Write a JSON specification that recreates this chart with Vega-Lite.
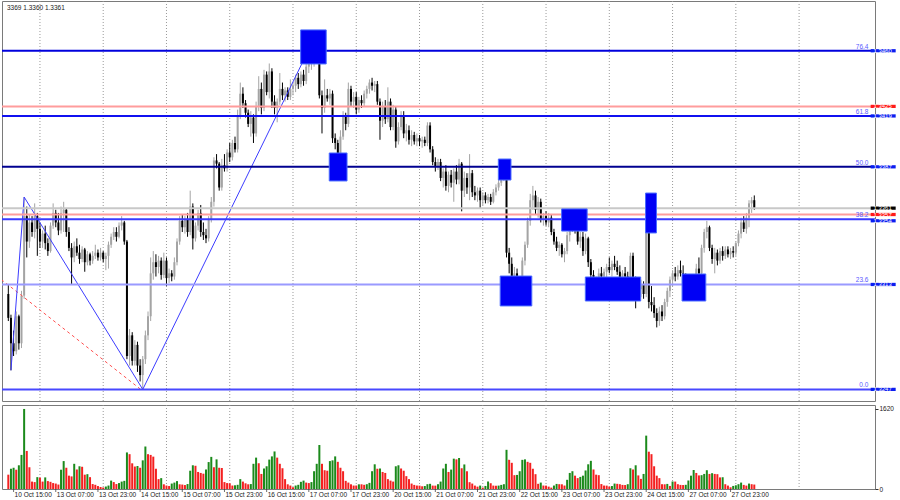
{
"$schema":"https://vega.github.io/schema/vega-lite/v6.json",
"padding":0,
"background":"white",
"spacing":2,
"config":{"view":{"stroke":"#7a7a7a","strokeWidth":1},"font":"Liberation Sans","axis":{"labelFont":"Liberation Sans"},"text":{"font":"Liberation Sans"}},
"resolve":{"scale":{"x":"independent","y":"independent"}},
"datasets":{
"ohlc":[
{"i":-2,"o":1.3307,"h":1.3313,"l":1.3290,"c":1.3292,"v":290},
{"i":-1,"o":1.3292,"h":1.3294,"l":1.3259,"c":1.3276,"v":410},
{"i":0,"o":1.3276,"h":1.3284,"l":1.3268,"c":1.3271,"v":430},
{"i":1,"o":1.3271,"h":1.3296,"l":1.3269,"c":1.3293,"v":390},
{"i":2,"o":1.3293,"h":1.3294,"l":1.3272,"c":1.3276,"v":480},
{"i":3,"o":1.3276,"h":1.3309,"l":1.3273,"c":1.3306,"v":690},
{"i":4,"o":1.3306,"h":1.3368,"l":1.3304,"c":1.3356,"v":1620},
{"i":5,"o":1.3356,"h":1.3362,"l":1.3330,"c":1.3340,"v":770},
{"i":6,"o":1.3340,"h":1.3357,"l":1.3336,"c":1.3352,"v":440},
{"i":7,"o":1.3352,"h":1.3356,"l":1.3343,"c":1.3346,"v":150},
{"i":8,"o":1.3346,"h":1.3364,"l":1.3342,"c":1.3356,"v":140},
{"i":9,"o":1.3356,"h":1.3358,"l":1.3331,"c":1.3348,"v":240},
{"i":10,"o":1.3348,"h":1.3352,"l":1.3336,"c":1.3340,"v":230},
{"i":11,"o":1.3340,"h":1.3347,"l":1.3336,"c":1.3345,"v":150},
{"i":12,"o":1.3345,"h":1.3350,"l":1.3335,"c":1.3339,"v":235},
{"i":13,"o":1.3339,"h":1.3342,"l":1.3331,"c":1.3334,"v":160},
{"i":14,"o":1.3334,"h":1.3352,"l":1.3333,"c":1.3350,"v":145},
{"i":15,"o":1.3350,"h":1.3364,"l":1.3348,"c":1.3358,"v":120},
{"i":16,"o":1.3358,"h":1.3360,"l":1.3349,"c":1.3352,"v":110},
{"i":17,"o":1.3352,"h":1.3358,"l":1.3344,"c":1.3347,"v":90},
{"i":18,"o":1.3347,"h":1.3362,"l":1.3345,"c":1.3358,"v":390},
{"i":19,"o":1.3358,"h":1.3365,"l":1.3346,"c":1.3360,"v":565},
{"i":20,"o":1.3360,"h":1.3361,"l":1.3343,"c":1.3346,"v":430},
{"i":21,"o":1.3346,"h":1.3349,"l":1.3334,"c":1.3336,"v":270},
{"i":22,"o":1.3336,"h":1.3339,"l":1.3313,"c":1.3330,"v":255},
{"i":23,"o":1.3330,"h":1.3340,"l":1.3327,"c":1.3337,"v":510},
{"i":24,"o":1.3337,"h":1.3342,"l":1.3331,"c":1.3333,"v":395},
{"i":25,"o":1.3333,"h":1.3338,"l":1.3326,"c":1.3329,"v":460},
{"i":26,"o":1.3329,"h":1.3337,"l":1.3327,"c":1.3335,"v":450},
{"i":27,"o":1.3335,"h":1.3336,"l":1.3321,"c":1.3327,"v":290},
{"i":28,"o":1.3327,"h":1.3334,"l":1.3325,"c":1.3332,"v":300},
{"i":29,"o":1.3332,"h":1.3333,"l":1.3325,"c":1.3328,"v":240},
{"i":30,"o":1.3328,"h":1.3334,"l":1.3326,"c":1.3331,"v":100},
{"i":31,"o":1.3331,"h":1.3338,"l":1.3329,"c":1.3333,"v":85},
{"i":32,"o":1.3333,"h":1.3335,"l":1.3328,"c":1.3330,"v":60},
{"i":33,"o":1.3330,"h":1.3336,"l":1.3328,"c":1.3333,"v":40},
{"i":34,"o":1.3333,"h":1.3334,"l":1.3327,"c":1.3329,"v":30},
{"i":35,"o":1.3329,"h":1.3333,"l":1.3322,"c":1.3331,"v":50},
{"i":36,"o":1.3331,"h":1.3340,"l":1.3323,"c":1.3338,"v":70},
{"i":37,"o":1.3338,"h":1.3345,"l":1.3336,"c":1.3343,"v":170},
{"i":38,"o":1.3343,"h":1.3349,"l":1.3341,"c":1.3346,"v":140},
{"i":39,"o":1.3346,"h":1.3349,"l":1.3340,"c":1.3343,"v":100},
{"i":40,"o":1.3343,"h":1.3352,"l":1.3342,"c":1.3350,"v":120},
{"i":41,"o":1.3350,"h":1.3356,"l":1.3347,"c":1.3352,"v":150},
{"i":42,"o":1.3352,"h":1.3353,"l":1.3338,"c":1.3340,"v":165},
{"i":43,"o":1.3340,"h":1.3341,"l":1.3266,"c":1.3268,"v":740},
{"i":44,"o":1.3268,"h":1.3285,"l":1.3262,"c":1.3281,"v":705},
{"i":45,"o":1.3281,"h":1.3283,"l":1.3262,"c":1.3265,"v":520},
{"i":46,"o":1.3265,"h":1.3278,"l":1.3262,"c":1.3275,"v":455},
{"i":47,"o":1.3275,"h":1.3277,"l":1.3258,"c":1.3262,"v":465},
{"i":48,"o":1.3262,"h":1.3266,"l":1.3252,"c":1.3256,"v":430},
{"i":49,"o":1.3256,"h":1.3268,"l":1.3247,"c":1.3266,"v":580},
{"i":50,"o":1.3266,"h":1.3284,"l":1.3263,"c":1.3281,"v":860},
{"i":51,"o":1.3281,"h":1.3296,"l":1.3278,"c":1.3293,"v":705},
{"i":52,"o":1.3293,"h":1.3330,"l":1.3290,"c":1.3320,"v":690},
{"i":53,"o":1.3320,"h":1.3334,"l":1.3316,"c":1.3327,"v":655},
{"i":54,"o":1.3327,"h":1.3332,"l":1.3318,"c":1.3324,"v":410},
{"i":55,"o":1.3324,"h":1.3331,"l":1.3320,"c":1.3328,"v":200},
{"i":56,"o":1.3328,"h":1.3330,"l":1.3316,"c":1.3319,"v":220},
{"i":57,"o":1.3319,"h":1.3333,"l":1.3317,"c":1.3328,"v":95},
{"i":58,"o":1.3328,"h":1.3330,"l":1.3312,"c":1.3317,"v":70},
{"i":59,"o":1.3317,"h":1.3323,"l":1.3314,"c":1.3320,"v":60},
{"i":60,"o":1.3320,"h":1.3322,"l":1.3315,"c":1.3318,"v":110},
{"i":61,"o":1.3318,"h":1.3330,"l":1.3316,"c":1.3327,"v":130},
{"i":62,"o":1.3327,"h":1.3342,"l":1.3325,"c":1.3340,"v":160},
{"i":63,"o":1.3340,"h":1.3356,"l":1.3338,"c":1.3353,"v":95},
{"i":64,"o":1.3353,"h":1.3357,"l":1.3346,"c":1.3349,"v":90},
{"i":65,"o":1.3349,"h":1.3356,"l":1.3345,"c":1.3354,"v":80},
{"i":66,"o":1.3354,"h":1.3358,"l":1.3343,"c":1.3346,"v":100},
{"i":67,"o":1.3346,"h":1.3372,"l":1.3344,"c":1.3362,"v":370},
{"i":68,"o":1.3362,"h":1.3364,"l":1.3335,"c":1.3342,"v":480},
{"i":69,"o":1.3342,"h":1.3352,"l":1.3340,"c":1.3350,"v":470},
{"i":70,"o":1.3350,"h":1.3360,"l":1.3347,"c":1.3358,"v":345},
{"i":71,"o":1.3358,"h":1.3363,"l":1.3343,"c":1.3346,"v":325},
{"i":72,"o":1.3346,"h":1.3352,"l":1.3341,"c":1.3344,"v":310},
{"i":73,"o":1.3344,"h":1.3348,"l":1.3339,"c":1.3342,"v":395},
{"i":74,"o":1.3342,"h":1.3356,"l":1.3340,"c":1.3354,"v":545},
{"i":75,"o":1.3354,"h":1.3368,"l":1.3352,"c":1.3365,"v":650},
{"i":76,"o":1.3365,"h":1.3393,"l":1.3362,"c":1.3391,"v":440},
{"i":77,"o":1.3391,"h":1.3395,"l":1.3386,"c":1.3389,"v":600},
{"i":78,"o":1.3389,"h":1.3390,"l":1.3372,"c":1.3374,"v":430},
{"i":79,"o":1.3374,"h":1.3392,"l":1.3372,"c":1.3388,"v":425},
{"i":80,"o":1.3388,"h":1.3395,"l":1.3384,"c":1.3386,"v":140},
{"i":81,"o":1.3386,"h":1.3398,"l":1.3384,"c":1.3396,"v":120},
{"i":82,"o":1.3396,"h":1.3402,"l":1.3390,"c":1.3393,"v":115},
{"i":83,"o":1.3393,"h":1.3404,"l":1.3391,"c":1.3402,"v":70},
{"i":84,"o":1.3402,"h":1.3406,"l":1.3396,"c":1.3398,"v":75},
{"i":85,"o":1.3398,"h":1.3423,"l":1.3396,"c":1.3419,"v":85},
{"i":86,"o":1.3419,"h":1.3440,"l":1.3417,"c":1.3433,"v":200},
{"i":87,"o":1.3433,"h":1.3437,"l":1.3424,"c":1.3427,"v":150},
{"i":88,"o":1.3427,"h":1.3429,"l":1.3418,"c":1.3421,"v":115},
{"i":89,"o":1.3421,"h":1.3423,"l":1.3412,"c":1.3414,"v":95},
{"i":90,"o":1.3414,"h":1.3422,"l":1.3406,"c":1.3418,"v":100},
{"i":91,"o":1.3418,"h":1.3420,"l":1.3402,"c":1.3408,"v":510},
{"i":92,"o":1.3408,"h":1.3428,"l":1.3406,"c":1.3425,"v":635},
{"i":93,"o":1.3425,"h":1.3444,"l":1.3422,"c":1.3436,"v":520},
{"i":94,"o":1.3436,"h":1.3440,"l":1.3420,"c":1.3424,"v":305},
{"i":95,"o":1.3424,"h":1.3448,"l":1.3422,"c":1.3445,"v":415},
{"i":96,"o":1.3445,"h":1.3447,"l":1.3432,"c":1.3434,"v":460},
{"i":97,"o":1.3434,"h":1.3452,"l":1.3430,"c":1.3447,"v":595},
{"i":98,"o":1.3447,"h":1.3449,"l":1.3424,"c":1.3428,"v":660},
{"i":99,"o":1.3428,"h":1.3432,"l":1.3420,"c":1.3424,"v":760},
{"i":100,"o":1.3424,"h":1.3430,"l":1.3415,"c":1.3428,"v":635},
{"i":101,"o":1.3428,"h":1.3446,"l":1.3426,"c":1.3436,"v":510},
{"i":102,"o":1.3436,"h":1.3440,"l":1.3429,"c":1.3432,"v":420},
{"i":103,"o":1.3432,"h":1.3437,"l":1.3428,"c":1.3435,"v":200},
{"i":104,"o":1.3435,"h":1.3437,"l":1.3429,"c":1.3431,"v":95},
{"i":105,"o":1.3431,"h":1.3442,"l":1.3429,"c":1.3436,"v":70},
{"i":106,"o":1.3436,"h":1.3440,"l":1.3432,"c":1.3438,"v":35},
{"i":107,"o":1.3438,"h":1.3445,"l":1.3434,"c":1.3443,"v":70},
{"i":108,"o":1.3443,"h":1.3446,"l":1.3436,"c":1.3439,"v":85},
{"i":109,"o":1.3439,"h":1.3447,"l":1.3437,"c":1.3445,"v":145},
{"i":110,"o":1.3445,"h":1.3448,"l":1.3438,"c":1.3441,"v":170},
{"i":111,"o":1.3441,"h":1.3452,"l":1.3439,"c":1.3450,"v":130},
{"i":112,"o":1.3450,"h":1.3454,"l":1.3446,"c":1.3452,"v":120},
{"i":113,"o":1.3452,"h":1.3456,"l":1.3448,"c":1.3454,"v":140},
{"i":114,"o":1.3454,"h":1.3470,"l":1.3450,"c":1.3466,"v":360},
{"i":115,"o":1.3466,"h":1.3471,"l":1.3454,"c":1.3456,"v":510},
{"i":116,"o":1.3456,"h":1.3458,"l":1.3430,"c":1.3432,"v":890},
{"i":117,"o":1.3432,"h":1.3435,"l":1.3408,"c":1.3424,"v":510},
{"i":118,"o":1.3424,"h":1.3442,"l":1.3421,"c":1.3432,"v":380},
{"i":119,"o":1.3432,"h":1.3436,"l":1.3428,"c":1.3430,"v":370},
{"i":120,"o":1.3430,"h":1.3436,"l":1.3426,"c":1.3433,"v":565},
{"i":121,"o":1.3433,"h":1.3435,"l":1.3402,"c":1.3405,"v":580},
{"i":122,"o":1.3405,"h":1.3408,"l":1.3398,"c":1.3402,"v":660},
{"i":123,"o":1.3402,"h":1.3404,"l":1.3389,"c":1.3392,"v":550},
{"i":124,"o":1.3392,"h":1.3410,"l":1.3390,"c":1.3406,"v":430},
{"i":125,"o":1.3406,"h":1.3422,"l":1.3404,"c":1.3419,"v":360},
{"i":126,"o":1.3419,"h":1.3421,"l":1.3410,"c":1.3414,"v":165},
{"i":127,"o":1.3414,"h":1.3440,"l":1.3412,"c":1.3436,"v":130},
{"i":128,"o":1.3436,"h":1.3438,"l":1.3425,"c":1.3428,"v":95},
{"i":129,"o":1.3428,"h":1.3434,"l":1.3424,"c":1.3431,"v":70},
{"i":130,"o":1.3431,"h":1.3434,"l":1.3420,"c":1.3423,"v":70},
{"i":131,"o":1.3423,"h":1.3431,"l":1.3421,"c":1.3429,"v":95},
{"i":132,"o":1.3429,"h":1.3432,"l":1.3424,"c":1.3427,"v":95},
{"i":133,"o":1.3427,"h":1.3435,"l":1.3425,"c":1.3433,"v":85},
{"i":134,"o":1.3433,"h":1.3438,"l":1.3430,"c":1.3436,"v":97},
{"i":135,"o":1.3436,"h":1.3442,"l":1.3433,"c":1.3440,"v":124},
{"i":136,"o":1.3440,"h":1.3443,"l":1.3435,"c":1.3438,"v":360},
{"i":137,"o":1.3438,"h":1.3441,"l":1.3434,"c":1.3439,"v":500},
{"i":138,"o":1.3439,"h":1.3441,"l":1.3426,"c":1.3428,"v":410},
{"i":139,"o":1.3428,"h":1.3430,"l":1.3404,"c":1.3416,"v":415},
{"i":140,"o":1.3416,"h":1.3428,"l":1.3412,"c":1.3425,"v":345},
{"i":141,"o":1.3425,"h":1.3429,"l":1.3414,"c":1.3417,"v":325},
{"i":142,"o":1.3417,"h":1.3437,"l":1.3415,"c":1.3428,"v":200},
{"i":143,"o":1.3428,"h":1.3430,"l":1.3410,"c":1.3412,"v":170},
{"i":144,"o":1.3412,"h":1.3426,"l":1.3410,"c":1.3423,"v":150},
{"i":145,"o":1.3423,"h":1.3425,"l":1.3399,"c":1.3403,"v":460},
{"i":146,"o":1.3403,"h":1.3415,"l":1.3401,"c":1.3412,"v":480},
{"i":147,"o":1.3412,"h":1.3422,"l":1.3410,"c":1.3419,"v":415},
{"i":148,"o":1.3419,"h":1.3422,"l":1.3405,"c":1.3408,"v":370},
{"i":149,"o":1.3408,"h":1.3414,"l":1.3403,"c":1.3410,"v":260},
{"i":150,"o":1.3410,"h":1.3413,"l":1.3401,"c":1.3404,"v":200},
{"i":151,"o":1.3404,"h":1.3410,"l":1.3400,"c":1.3407,"v":110},
{"i":152,"o":1.3407,"h":1.3409,"l":1.3401,"c":1.3403,"v":83},
{"i":153,"o":1.3403,"h":1.3408,"l":1.3400,"c":1.3405,"v":70},
{"i":154,"o":1.3405,"h":1.3407,"l":1.3400,"c":1.3403,"v":68},
{"i":155,"o":1.3403,"h":1.3406,"l":1.3399,"c":1.3404,"v":55},
{"i":156,"o":1.3404,"h":1.3406,"l":1.3400,"c":1.3402,"v":60},
{"i":157,"o":1.3402,"h":1.3415,"l":1.3400,"c":1.3413,"v":97},
{"i":158,"o":1.3413,"h":1.3415,"l":1.3396,"c":1.3398,"v":105},
{"i":159,"o":1.3398,"h":1.3400,"l":1.3388,"c":1.3390,"v":69},
{"i":160,"o":1.3390,"h":1.3393,"l":1.3384,"c":1.3387,"v":68},
{"i":161,"o":1.3387,"h":1.3392,"l":1.3385,"c":1.3390,"v":97},
{"i":162,"o":1.3390,"h":1.3392,"l":1.3378,"c":1.3380,"v":150},
{"i":163,"o":1.3380,"h":1.3386,"l":1.3374,"c":1.3384,"v":415},
{"i":164,"o":1.3384,"h":1.3388,"l":1.3372,"c":1.3375,"v":510},
{"i":165,"o":1.3375,"h":1.3384,"l":1.3371,"c":1.3382,"v":345},
{"i":166,"o":1.3382,"h":1.3385,"l":1.3374,"c":1.3377,"v":393},
{"i":167,"o":1.3377,"h":1.3386,"l":1.3365,"c":1.3384,"v":614},
{"i":168,"o":1.3384,"h":1.3388,"l":1.3376,"c":1.3379,"v":600},
{"i":169,"o":1.3379,"h":1.3392,"l":1.3376,"c":1.3389,"v":628},
{"i":170,"o":1.3389,"h":1.3390,"l":1.3359,"c":1.3372,"v":420},
{"i":171,"o":1.3372,"h":1.3384,"l":1.3368,"c":1.3380,"v":497},
{"i":172,"o":1.3380,"h":1.3383,"l":1.3370,"c":1.3374,"v":359},
{"i":173,"o":1.3374,"h":1.3395,"l":1.3366,"c":1.3383,"v":138},
{"i":174,"o":1.3383,"h":1.3385,"l":1.3368,"c":1.3371,"v":110},
{"i":175,"o":1.3371,"h":1.3375,"l":1.3366,"c":1.3369,"v":69},
{"i":176,"o":1.3369,"h":1.3374,"l":1.3365,"c":1.3372,"v":48},
{"i":177,"o":1.3372,"h":1.3374,"l":1.3361,"c":1.3366,"v":69},
{"i":178,"o":1.3366,"h":1.3371,"l":1.3363,"c":1.3369,"v":28},
{"i":179,"o":1.3369,"h":1.3371,"l":1.3364,"c":1.3366,"v":62},
{"i":180,"o":1.3366,"h":1.3370,"l":1.3364,"c":1.3368,"v":152},
{"i":181,"o":1.3368,"h":1.3370,"l":1.3363,"c":1.3365,"v":117},
{"i":182,"o":1.3365,"h":1.3373,"l":1.3364,"c":1.3371,"v":69},
{"i":183,"o":1.3371,"h":1.3376,"l":1.3369,"c":1.3374,"v":66},
{"i":184,"o":1.3374,"h":1.3379,"l":1.3372,"c":1.3377,"v":69},
{"i":185,"o":1.3377,"h":1.3383,"l":1.3375,"c":1.3381,"v":83},
{"i":186,"o":1.3381,"h":1.3387,"l":1.3378,"c":1.3384,"v":97},
{"i":187,"o":1.3384,"h":1.3386,"l":1.3330,"c":1.3333,"v":793},
{"i":188,"o":1.3333,"h":1.3336,"l":1.3320,"c":1.3326,"v":590},
{"i":189,"o":1.3326,"h":1.3330,"l":1.3312,"c":1.3316,"v":530},
{"i":190,"o":1.3316,"h":1.3324,"l":1.3310,"c":1.3320,"v":280},
{"i":191,"o":1.3320,"h":1.3323,"l":1.3304,"c":1.3309,"v":285},
{"i":192,"o":1.3309,"h":1.3318,"l":1.3306,"c":1.3314,"v":360},
{"i":193,"o":1.3314,"h":1.3330,"l":1.3311,"c":1.3328,"v":590},
{"i":194,"o":1.3328,"h":1.3340,"l":1.3325,"c":1.3338,"v":600},
{"i":195,"o":1.3338,"h":1.3355,"l":1.3336,"c":1.3353,"v":550},
{"i":196,"o":1.3353,"h":1.3370,"l":1.3350,"c":1.3366,"v":530},
{"i":197,"o":1.3366,"h":1.3375,"l":1.3360,"c":1.3369,"v":410},
{"i":198,"o":1.3369,"h":1.3372,"l":1.3357,"c":1.3360,"v":300},
{"i":199,"o":1.3360,"h":1.3368,"l":1.3355,"c":1.3365,"v":105},
{"i":200,"o":1.3365,"h":1.3367,"l":1.3352,"c":1.3354,"v":130},
{"i":201,"o":1.3354,"h":1.3358,"l":1.3350,"c":1.3356,"v":70},
{"i":202,"o":1.3356,"h":1.3359,"l":1.3350,"c":1.3352,"v":68},
{"i":203,"o":1.3352,"h":1.3358,"l":1.3349,"c":1.3355,"v":48},
{"i":204,"o":1.3355,"h":1.3357,"l":1.3344,"c":1.3346,"v":28},
{"i":205,"o":1.3346,"h":1.3348,"l":1.3338,"c":1.3340,"v":70},
{"i":206,"o":1.3340,"h":1.3343,"l":1.3334,"c":1.3336,"v":103},
{"i":207,"o":1.3336,"h":1.3340,"l":1.3331,"c":1.3338,"v":97},
{"i":208,"o":1.3338,"h":1.3339,"l":1.3330,"c":1.3332,"v":95},
{"i":209,"o":1.3332,"h":1.3336,"l":1.3327,"c":1.3334,"v":70},
{"i":210,"o":1.3334,"h":1.3346,"l":1.3332,"c":1.3344,"v":186},
{"i":211,"o":1.3344,"h":1.3352,"l":1.3340,"c":1.3350,"v":325},
{"i":212,"o":1.3350,"h":1.3356,"l":1.3346,"c":1.3353,"v":360},
{"i":213,"o":1.3353,"h":1.3356,"l":1.3345,"c":1.3348,"v":270},
{"i":214,"o":1.3348,"h":1.3350,"l":1.3338,"c":1.3340,"v":220},
{"i":215,"o":1.3340,"h":1.3346,"l":1.3336,"c":1.3343,"v":245},
{"i":216,"o":1.3343,"h":1.3346,"l":1.3331,"c":1.3334,"v":270},
{"i":217,"o":1.3334,"h":1.3345,"l":1.3332,"c":1.3342,"v":375},
{"i":218,"o":1.3342,"h":1.3343,"l":1.3324,"c":1.3327,"v":500},
{"i":219,"o":1.3327,"h":1.3329,"l":1.3316,"c":1.3319,"v":570},
{"i":220,"o":1.3319,"h":1.3322,"l":1.3308,"c":1.3312,"v":395},
{"i":221,"o":1.3312,"h":1.3318,"l":1.3307,"c":1.3315,"v":290},
{"i":222,"o":1.3315,"h":1.3323,"l":1.3312,"c":1.3320,"v":280},
{"i":223,"o":1.3320,"h":1.3324,"l":1.3316,"c":1.3318,"v":100},
{"i":224,"o":1.3318,"h":1.3323,"l":1.3315,"c":1.3321,"v":70},
{"i":225,"o":1.3321,"h":1.3326,"l":1.3317,"c":1.3324,"v":68},
{"i":226,"o":1.3324,"h":1.3330,"l":1.3320,"c":1.3322,"v":48},
{"i":227,"o":1.3322,"h":1.3328,"l":1.3318,"c":1.3326,"v":60},
{"i":228,"o":1.3326,"h":1.3331,"l":1.3322,"c":1.3324,"v":110},
{"i":229,"o":1.3324,"h":1.3328,"l":1.3319,"c":1.3321,"v":105},
{"i":230,"o":1.3321,"h":1.3325,"l":1.3314,"c":1.3317,"v":97},
{"i":231,"o":1.3317,"h":1.3322,"l":1.3313,"c":1.3320,"v":83},
{"i":232,"o":1.3320,"h":1.3324,"l":1.3315,"c":1.3318,"v":80},
{"i":233,"o":1.3318,"h":1.3321,"l":1.3312,"c":1.3316,"v":97},
{"i":234,"o":1.3316,"h":1.3333,"l":1.3312,"c":1.3331,"v":420},
{"i":235,"o":1.3331,"h":1.3333,"l":1.3313,"c":1.3316,"v":395},
{"i":236,"o":1.3316,"h":1.3318,"l":1.3298,"c":1.3312,"v":480},
{"i":237,"o":1.3312,"h":1.3317,"l":1.3306,"c":1.3310,"v":275},
{"i":238,"o":1.3310,"h":1.3316,"l":1.3305,"c":1.3313,"v":205},
{"i":239,"o":1.3313,"h":1.3315,"l":1.3304,"c":1.3307,"v":305},
{"i":240,"o":1.3307,"h":1.3370,"l":1.3305,"c":1.3352,"v":1080},
{"i":241,"o":1.3352,"h":1.3358,"l":1.3298,"c":1.3302,"v":755},
{"i":242,"o":1.3302,"h":1.3312,"l":1.3296,"c":1.3300,"v":705},
{"i":243,"o":1.3300,"h":1.3305,"l":1.3292,"c":1.3295,"v":460},
{"i":244,"o":1.3295,"h":1.3298,"l":1.3286,"c":1.3290,"v":270},
{"i":245,"o":1.3290,"h":1.3299,"l":1.3287,"c":1.3296,"v":220},
{"i":246,"o":1.3296,"h":1.3300,"l":1.3290,"c":1.3293,"v":97},
{"i":247,"o":1.3293,"h":1.3304,"l":1.3291,"c":1.3302,"v":95},
{"i":248,"o":1.3302,"h":1.3311,"l":1.3299,"c":1.3309,"v":103},
{"i":249,"o":1.3309,"h":1.3318,"l":1.3305,"c":1.3316,"v":62},
{"i":250,"o":1.3316,"h":1.3322,"l":1.3312,"c":1.3320,"v":152},
{"i":251,"o":1.3320,"h":1.3324,"l":1.3315,"c":1.3318,"v":150},
{"i":252,"o":1.3318,"h":1.3325,"l":1.3316,"c":1.3322,"v":97},
{"i":253,"o":1.3322,"h":1.3328,"l":1.3318,"c":1.3320,"v":83},
{"i":254,"o":1.3320,"h":1.3325,"l":1.3313,"c":1.3316,"v":80},
{"i":255,"o":1.3316,"h":1.3320,"l":1.3308,"c":1.3313,"v":85},
{"i":256,"o":1.3313,"h":1.3319,"l":1.3310,"c":1.3317,"v":172},
{"i":257,"o":1.3317,"h":1.3319,"l":1.3307,"c":1.3310,"v":270},
{"i":258,"o":1.3310,"h":1.3318,"l":1.3308,"c":1.3316,"v":385},
{"i":259,"o":1.3316,"h":1.3326,"l":1.3314,"c":1.3323,"v":325},
{"i":260,"o":1.3323,"h":1.3330,"l":1.3318,"c":1.3320,"v":275},
{"i":261,"o":1.3320,"h":1.3338,"l":1.3318,"c":1.3336,"v":280},
{"i":262,"o":1.3336,"h":1.3348,"l":1.3333,"c":1.3346,"v":305},
{"i":263,"o":1.3346,"h":1.3353,"l":1.3342,"c":1.3349,"v":380},
{"i":264,"o":1.3349,"h":1.3350,"l":1.3334,"c":1.3336,"v":305},
{"i":265,"o":1.3336,"h":1.3338,"l":1.3326,"c":1.3329,"v":320},
{"i":266,"o":1.3329,"h":1.3336,"l":1.3320,"c":1.3333,"v":305},
{"i":267,"o":1.3333,"h":1.3335,"l":1.3325,"c":1.3328,"v":300},
{"i":268,"o":1.3328,"h":1.3336,"l":1.3326,"c":1.3334,"v":235},
{"i":269,"o":1.3334,"h":1.3337,"l":1.3328,"c":1.3331,"v":238},
{"i":270,"o":1.3331,"h":1.3337,"l":1.3329,"c":1.3335,"v":97},
{"i":271,"o":1.3335,"h":1.3337,"l":1.3330,"c":1.3332,"v":69},
{"i":272,"o":1.3332,"h":1.3336,"l":1.3329,"c":1.3334,"v":35},
{"i":273,"o":1.3334,"h":1.3337,"l":1.3330,"c":1.3333,"v":62},
{"i":274,"o":1.3333,"h":1.3340,"l":1.3331,"c":1.3339,"v":75},
{"i":275,"o":1.3339,"h":1.3347,"l":1.3337,"c":1.3345,"v":97},
{"i":276,"o":1.3345,"h":1.3355,"l":1.3342,"c":1.3352,"v":130},
{"i":277,"o":1.3352,"h":1.3356,"l":1.3346,"c":1.3348,"v":83},
{"i":278,"o":1.3348,"h":1.3358,"l":1.3345,"c":1.3355,"v":69},
{"i":279,"o":1.3355,"h":1.3366,"l":1.3349,"c":1.3364,"v":110},
{"i":280,"o":1.3364,"h":1.3368,"l":1.3358,"c":1.3366,"v":97},
{"i":281,"o":1.3366,"h":1.3369,"l":1.3360,"c":1.3361,"v":90}
],
"grid":[{"i":10},{"i":34},{"i":58},{"i":82},{"i":106},{"i":130},{"i":154},{"i":178},{"i":202},{"i":226},{"i":250},{"i":274},{"i":298}],
"times":[
{"i":0,"t":"10 Oct 15:00"},{"i":16,"t":"13 Oct 07:00"},{"i":32,"t":"13 Oct 23:00"},{"i":48,"t":"14 Oct 15:00"},
{"i":64,"t":"15 Oct 07:00"},{"i":80,"t":"15 Oct 23:00"},{"i":96,"t":"16 Oct 15:00"},{"i":112,"t":"17 Oct 07:00"},
{"i":128,"t":"17 Oct 23:00"},{"i":144,"t":"20 Oct 15:00"},{"i":160,"t":"21 Oct 07:00"},{"i":176,"t":"21 Oct 23:00"},
{"i":192,"t":"22 Oct 15:00"},{"i":208,"t":"23 Oct 07:00"},{"i":224,"t":"23 Oct 23:00"},{"i":240,"t":"24 Oct 15:00"},
{"i":256,"t":"27 Oct 07:00"},{"i":272,"t":"27 Oct 23:00"}
],
"levels":[
{"p":1.3460,"n":"f764"},{"p":1.3425,"n":"red"},{"p":1.3419,"n":"f618"},{"p":1.3387,"n":"f500"},
{"p":1.3361,"n":"bid"},{"p":1.3357,"n":"red"},{"p":1.3354,"n":"f382"},{"p":1.3313,"n":"f236"},{"p":1.3247,"n":"f0"}
],
"fibs":[
{"p":1.3460,"t":"76.4"},{"p":1.3419,"t":"61.8"},{"p":1.3387,"t":"50.0"},{"p":1.3354,"t":"38.2"},{"p":1.3313,"t":"23.6"},{"p":1.3247,"t":"0.0"}
],
"tags":[
{"p":1.3460,"k":"b"},{"p":1.3425,"k":"r"},{"p":1.3419,"k":"b"},{"p":1.3387,"k":"b"},
{"p":1.3357,"k":"r"},{"p":1.3361,"k":"k"},{"p":1.3313,"k":"b"},{"p":1.3247,"k":"b"}
],
"tagslow":[{"p":1.3354,"k":"b"}],
"boxes":[
{"i1":108.9,"i2":118.6,"p1":1.34731,"p2":1.34517},
{"i1":119.75,"i2":126.5,"p1":1.33957,"p2":1.33781},
{"i1":183.9,"i2":188.7,"p1":1.33919,"p2":1.33787},
{"i1":184.6,"i2":196.6,"p1":1.33183,"p2":1.32995},
{"i1":207.9,"i2":217.6,"p1":1.33605,"p2":1.33466},
{"i1":216.9,"i2":237.9,"p1":1.33177,"p2":1.33026},
{"i1":239.75,"i2":243.9,"p1":1.33705,"p2":1.33454},
{"i1":253.6,"i2":262.6,"p1":1.33196,"p2":1.33026}
],
"zig":[{"i":-1,"p":1.3259},{"i":4,"p":1.3368},{"i":49,"p":1.3247},{"i":115,"p":1.3471}],
"trend":[{"i":-10,"p":1.33231},{"i":48,"p":1.32473}]
},
"vconcat":[
{
"width":873,"height":400,
"layer":[
{"data":{"name":"grid"},"mark":{"type":"rule","color":"#9a9a9a","strokeDash":[1,2],"strokeWidth":1},
 "encoding":{"x":{"field":"i","type":"quantitative","scale":{"domain":[-2.5,324.9],"nice":false,"zero":false},"axis":null}}},
{"data":{"name":"ohlc"},"mark":{"type":"rule","strokeWidth":1},
 "encoding":{"x":{"field":"i","type":"quantitative","axis":null},
  "y":{"field":"l","type":"quantitative","scale":{"domain":[1.32397,1.34913],"nice":false,"zero":false},
   "axis":{"orient":"right","title":null,"values":[1.3245,1.326,1.3275,1.329,1.3305,1.332,1.3335,1.335,1.3365,1.338,1.3395,1.341,1.3425,1.344,1.3455,1.347,1.3485],"format":".4f","grid":false,"domain":false,"tickSize":3,"tickColor":"#303030","labelFontSize":6.5,"labelColor":"#202020","labelPadding":1,"labelBaseline":"middle"}},
  "y2":{"field":"h"},
  "color":{"condition":{"test":"datum.c >= datum.o","value":"#a4a4a4"},"value":"#000000"}}},
{"data":{"name":"ohlc"},"mark":{"type":"bar","width":2},
 "encoding":{"x":{"field":"i","type":"quantitative","axis":null},
  "y":{"field":"o","type":"quantitative","axis":null},"y2":{"field":"c"},
  "color":{"condition":{"test":"datum.c >= datum.o","value":"#a4a4a4"},"value":"#000000"}}},
{"data":{"name":"trend"},"mark":{"type":"line","color":"#ff5050","strokeDash":[3,3],"strokeWidth":1,"clip":true},
 "encoding":{"x":{"field":"i","type":"quantitative","axis":null},"y":{"field":"p","type":"quantitative","axis":null}}},
{"data":{"name":"zig"},"mark":{"type":"line","color":"#3c3cff","strokeWidth":1},
 "encoding":{"x":{"field":"i","type":"quantitative","axis":null},"y":{"field":"p","type":"quantitative","axis":null}}},
{"data":{"name":"levels"},"mark":{"type":"rule"},
 "encoding":{"y":{"field":"p","type":"quantitative","axis":null},
  "stroke":{"field":"n","type":"nominal","legend":null,"scale":{"domain":["f764","red","f618","f500","bid","f382","f236","f0"],"range":["#0000dd","#ff9c9c","#1010f0","#000090","#c8c8c8","#3a3aff","#9a9aff","#4848ff"]}},
  "strokeWidth":{"field":"n","type":"ordinal","legend":null,"scale":{"domain":["f764","red","f618","f500","bid","f382","f236","f0"],"range":[2,2,1.5,1.5,1,1.2,2,2]}}}},
{"data":{"name":"boxes"},"mark":{"type":"rect","fill":"#0000f5","stroke":"#4a6cff","strokeWidth":1},
 "encoding":{"x":{"field":"i1","type":"quantitative","axis":null},"x2":{"field":"i2"},
  "y":{"field":"p1","type":"quantitative","axis":null},"y2":{"field":"p2"}}},
{"data":{"name":"fibs"},"mark":{"type":"text","align":"right","baseline":"bottom","dy":-1,"fontSize":6.5,"color":"#5a5aff"},
 "encoding":{"x":{"datum":324.3},"y":{"field":"p","type":"quantitative","axis":null},"text":{"field":"t"}}},
{"data":{"name":"tagslow"},"mark":{"type":"point","shape":"M-1,-0.13L1,-0.13L1,0.13L-1,0.13Z","size":625,"filled":true,"opacity":1,"strokeWidth":0,"yOffset":1.5},
 "encoding":{"x":{"datum":329.9},"y":{"field":"p","type":"quantitative","axis":null},
  "fill":{"field":"k","type":"nominal","legend":null,"scale":{"domain":["b","r","k"],"range":["#0a1ef0","#ff1a1a","#000000"]}}}},
{"data":{"name":"tagslow"},"mark":{"type":"text","align":"left","baseline":"middle","fontSize":6,"color":"#ffffff","yOffset":1.5},
 "encoding":{"x":{"datum":326.2},"y":{"field":"p","type":"quantitative","axis":null},"text":{"field":"p","type":"quantitative","format":".4f"}}},
{"data":{"name":"tags"},"mark":{"type":"point","shape":"M-1,-0.13L1,-0.13L1,0.13L-1,0.13Z","size":625,"filled":true,"opacity":1,"strokeWidth":0},
 "encoding":{"x":{"datum":329.9},"y":{"field":"p","type":"quantitative","axis":null},
  "fill":{"field":"k","type":"nominal","legend":null,"scale":{"domain":["b","r","k"],"range":["#0a1ef0","#ff1a1a","#000000"]}}}},
{"data":{"name":"tags"},"mark":{"type":"text","align":"left","baseline":"middle","fontSize":6,"color":"#ffffff"},
 "encoding":{"x":{"datum":326.2},"y":{"field":"p","type":"quantitative","axis":null},"text":{"field":"p","type":"quantitative","format":".4f"}}},
{"data":{"values":[{}]},"mark":{"type":"text","align":"left","baseline":"middle","fontSize":6.5,"color":"#202020"},
 "encoding":{"x":{"datum":-2.5},"y":{"datum":1.34869},"text":{"value":"3369 1.3360 1.3361"}}}
]
},
{
"width":873,"height":84,
"layer":[
{"data":{"name":"grid"},"mark":{"type":"rule","color":"#9a9a9a","strokeDash":[1,2],"strokeWidth":1},
 "encoding":{"x":{"field":"i","type":"quantitative","scale":{"domain":[-2.5,324.9],"nice":false,"zero":false},"axis":null}}},
{"data":{"name":"ohlc"},
 "transform":[{"window":[{"op":"lag","field":"v","as":"pv"}],"sort":[{"field":"i","order":"ascending"}]}],
 "mark":{"type":"bar","width":2},
 "encoding":{"x":{"field":"i","type":"quantitative","axis":null},
  "y":{"field":"v","type":"quantitative","scale":{"domain":[0,1700],"nice":false,"zero":true},
   "axis":{"orient":"right","title":null,"values":[0,1620],"format":"d","grid":false,"domain":false,"tickSize":3,"tickColor":"#303030","labelFontSize":6.5,"labelColor":"#202020","labelPadding":1}},
  "color":{"condition":{"test":"datum.pv != null && datum.v > datum.pv","value":"#1b8a1b"},"value":"#f42020"}}},
{"data":{"name":"times"},"mark":{"type":"tick","orient":"vertical","size":3,"thickness":1,"color":"#303030","yOffset":1.5},
 "encoding":{"x":{"field":"i","type":"quantitative","axis":null},"y":{"datum":0}}},
{"data":{"name":"times"},"mark":{"type":"text","align":"left","baseline":"top","fontSize":6.5,"color":"#202020","dy":3,"dx":1},
 "encoding":{"x":{"field":"i","type":"quantitative","axis":null},"y":{"datum":0},"text":{"field":"t"}}}
]
}
]
}
